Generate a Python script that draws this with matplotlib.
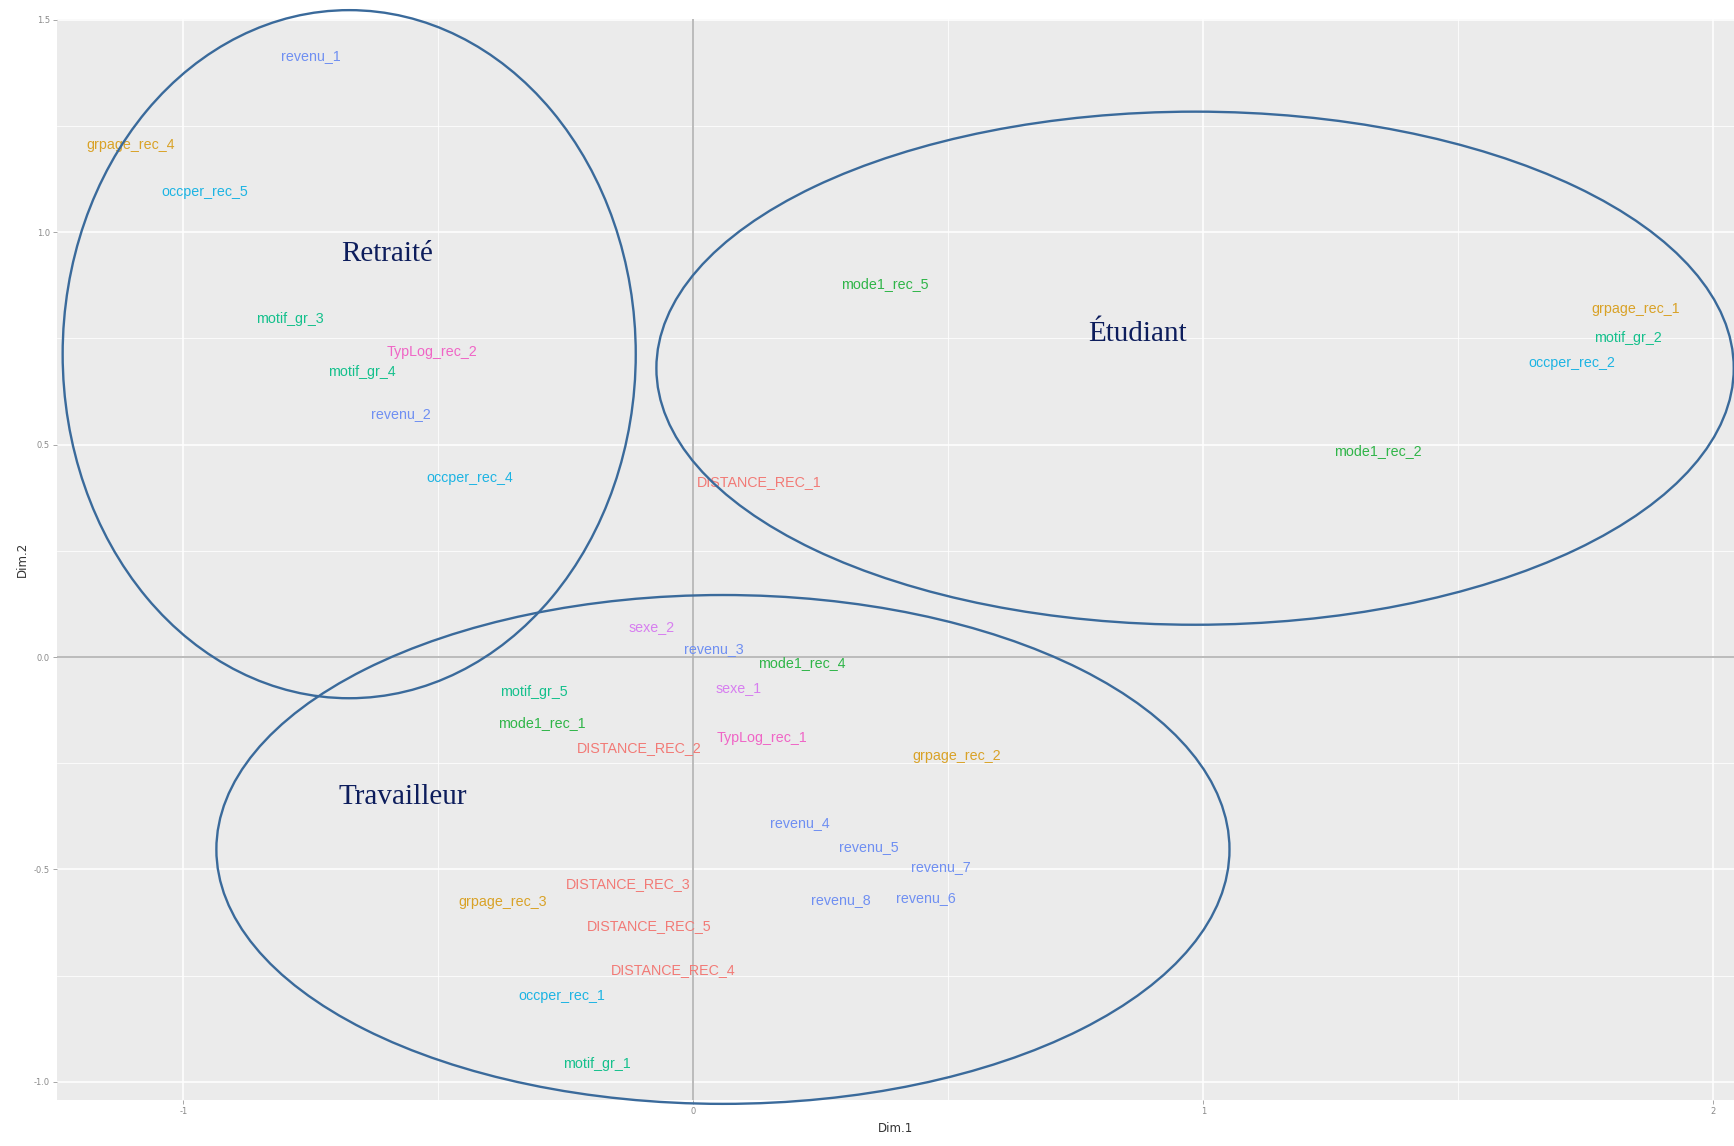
import matplotlib
matplotlib.use("Agg")
import matplotlib.pyplot as plt
from matplotlib.patches import Ellipse
from matplotlib.ticker import MultipleLocator

# ---- data ----
labels = ["revenu_1", "grpage_rec_4", "occper_rec_5", "motif_gr_3", "TypLog_rec_2",
          "motif_gr_4", "revenu_2", "occper_rec_4", "DISTANCE_REC_1", "mode1_rec_5",
          "grpage_rec_1", "motif_gr_2", "occper_rec_2", "mode1_rec_2", "sexe_2",
          "revenu_3", "mode1_rec_4", "motif_gr_5", "sexe_1", "mode1_rec_1",
          "DISTANCE_REC_2", "TypLog_rec_1", "grpage_rec_2", "revenu_4", "revenu_5",
          "revenu_7", "DISTANCE_REC_3", "grpage_rec_3", "revenu_8", "revenu_6",
          "DISTANCE_REC_5", "DISTANCE_REC_4", "occper_rec_1", "motif_gr_1"]
dim1 = [-0.751, -1.104, -0.959, -0.792, -0.512,
        -0.651, -0.573, -0.438, 0.130, 0.375,
        1.848, 1.833, 1.722, 1.343, -0.082,
        0.041, 0.213, -0.312, 0.089, -0.297,
        -0.106, 0.134, 0.516, 0.208, 0.345,
        0.486, -0.128, -0.373, 0.289, 0.456,
        -0.087, -0.039, -0.258, -0.189]
dim2 = [1.414, 1.206, 1.096, 0.797, 0.719,
        0.672, 0.573, 0.422, 0.411, 0.878,
        0.820, 0.750, 0.693, 0.484, 0.070,
        0.018, -0.013, -0.083, -0.073, -0.156,
        -0.214, -0.190, -0.232, -0.391, -0.448,
        -0.495, -0.534, -0.576, -0.573, -0.568,
        -0.633, -0.737, -0.797, -0.958]
groups = ["revenu", "grpage_rec", "occper_rec", "motif_gr", "TypLog_rec",
          "motif_gr", "revenu", "occper_rec", "DISTANCE_REC", "mode1_rec",
          "grpage_rec", "motif_gr", "occper_rec", "mode1_rec", "sexe",
          "revenu", "mode1_rec", "motif_gr", "sexe", "mode1_rec",
          "DISTANCE_REC", "TypLog_rec", "grpage_rec", "revenu", "revenu",
          "revenu", "DISTANCE_REC", "grpage_rec", "revenu", "revenu",
          "DISTANCE_REC", "DISTANCE_REC", "occper_rec", "motif_gr"]
group_names = ["DISTANCE_REC", "grpage_rec", "mode1_rec", "motif_gr",
               "occper_rec", "revenu", "sexe", "TypLog_rec"]
group_colors = ["#F27A76", "#D9A227", "#2FB548", "#14C08C",
                "#1DB4E3", "#6F8FF2", "#D77EF0", "#F065C6"]

cluster_names = ["Retraité", "Étudiant", "Travailleur"]
cluster_text_x = [-0.601, 0.872, -0.570]
cluster_text_y = [0.949, 0.760, -0.330]
ell_cx = [-0.675, 0.984, 0.058]
ell_cy = [0.713, 0.680, -0.453]
ell_w = [1.124, 2.113, 1.987]
ell_h = [1.620, 1.208, 1.198]

x_ticks = [-1, 0, 1, 2]
y_ticks = [-1.0, -0.5, 0.0, 0.5, 1.0, 1.5]

# ---- figure ----
fig = plt.figure(figsize=(17.34, 11.46), dpi=100)
ax = fig.add_axes([0.0329, 0.0401, 0.9671, 0.9429])
ax.set_facecolor("#EBEBEB")
ax.set_xlim(-1.248, 2.041)
ax.set_ylim(-1.043, 1.501)

ax.xaxis.set_minor_locator(MultipleLocator(0.5))
ax.yaxis.set_minor_locator(MultipleLocator(0.25))
ax.grid(which="major", color="white", linewidth=1.1)
ax.grid(which="minor", color="white", linewidth=0.55)
ax.set_axisbelow(True)
for s in ax.spines.values():
    s.set_visible(False)

ax.axhline(0, color="#B0B0B0", linewidth=1.2, zorder=1)
ax.axvline(0, color="#B0B0B0", linewidth=1.2, zorder=1)

ax.set_xticks(x_ticks)
ax.set_xticklabels([str(t) for t in x_ticks])
ax.set_yticks(y_ticks)
ax.set_yticklabels([f"{t:.1f}" for t in y_ticks])
ax.tick_params(which="major", length=3, width=0.6, color="#999999",
               labelsize=6, labelcolor="#8A8A8A", pad=2)
ax.tick_params(which="minor", length=0)

ax.set_xlabel("Dim.1", fontsize=8.5, color="#333333", labelpad=4)
ax.set_ylabel("Dim.2", fontsize=8.5, color="#333333", labelpad=4)

cmap = dict(zip(group_names, group_colors))
for lab, x, y, g in zip(labels, dim1, dim2, groups):
    ax.text(x, y, lab, color=cmap[g], fontsize=10.3, family="Liberation Sans",
            ha="center", va="center", zorder=3)

for cx, cy, w, h in zip(ell_cx, ell_cy, ell_w, ell_h):
    e = Ellipse((cx, cy), w, h, fill=False, edgecolor="#3A6A9B", linewidth=1.7,
                clip_on=False, zorder=4)
    ax.add_patch(e)

for name, tx, ty in zip(cluster_names, cluster_text_x, cluster_text_y):
    ax.text(tx, ty, name, color="#0D1D5C", fontsize=21, family="Liberation Serif",
            ha="center", va="center", zorder=5)

fig.savefig("out.png", dpi=100, facecolor="white")
